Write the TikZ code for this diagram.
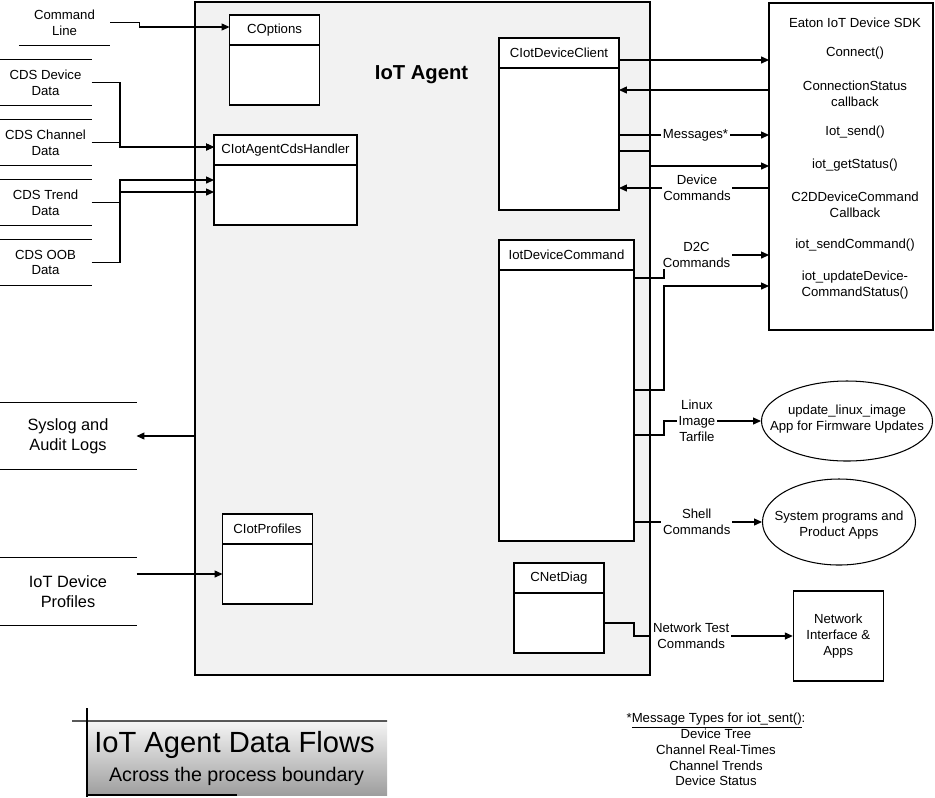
\documentclass[tikz,border=0pt]{standalone}
\usepackage{fontspec}
\setmainfont{Liberation Sans}
\usetikzlibrary{positioning, arrows.meta, shapes.geometric}
\definecolor{agentgray}{rgb}{0.949,0.949,0.949}
\definecolor{titletop}{rgb}{0.96,0.96,0.96}
\definecolor{titlebot}{rgb}{0.62,0.62,0.62}
\tikzset{
    arr/.style={-{Triangle[length=4.5pt,width=4pt]}}, % filled arrowheads
    txt/.style={font=\fontsize{7.5}{9}\selectfont, align=center, inner sep=0pt},
    bigtxt/.style={font=\fontsize{9.3}{11.3}\selectfont, align=center, inner sep=0pt},
    lbl/.style={txt, fill=white, inner sep=1pt}, % connector labels
    classhead/.style={txt, draw, fill=white, outer sep=0pt, minimum height=6mm},
    classbody/.style={draw, fill=white, outer sep=0pt, inner sep=0pt},
    store/.style={txt, minimum width=18.2mm, minimum height=9mm},
    app/.style={draw, ellipse, inner sep=0pt},
}

\begin{document}
\begin{tikzpicture}[x=0.2mm, y=-0.2mm, line width=0.6pt]
  \useasboundingbox (0,0) rectangle (935,797);

  % process boundary
  \node[draw, fill=agentgray, outer sep=0pt, minimum width=91mm, minimum height=134.6mm] (agent) at (422.5,338.5) {};
  \node[font=\fontsize{11.5}{13}\selectfont\bfseries] (agentname) at (421.5,75) {IoT Agent};

  % classes
  \node[classhead, minimum width=18mm] (optsh) at (274.5,30) {COptions};
  \node[classbody, minimum width=18mm, minimum height=12mm, below=0pt of optsh] (optsb) {};
  \node[classhead, minimum width=28.6mm] (hdlh) at (285.5,150) {CIotAgentCdsHandler};
  \node[classbody, minimum width=28.6mm, minimum height=12mm, below=0pt of hdlh] (hdlb) {};
  \node[classhead, minimum width=24mm] (clih) at (559,53) {CIotDeviceClient};
  \node[classbody, minimum width=24mm, minimum height=28.4mm, below=0pt of clih] (clib) {};
  \node[classhead, minimum width=27mm] (cmdh) at (566.5,255) {IotDeviceCommand};
  \node[classbody, minimum width=27mm, minimum height=54.2mm, below=0pt of cmdh] (cmdb) {};
  \node[classhead, minimum width=18mm] (profh) at (267.5,529) {CIotProfiles};
  \node[classbody, minimum width=18mm, minimum height=12mm, below=0pt of profh] (profb) {};
  \node[classhead, minimum width=18mm] (neth) at (559,578) {CNetDiag};
  \node[classbody, minimum width=18mm, minimum height=12mm, below=0pt of neth] (netb) {};

  % data stores on the left
  \node[store, minimum width=18mm] (cmdline) at (64.5,22.5) {Command\\Line};
  \node[store] (cdsdev) at (45.5,82.5) {CDS Device\\Data};
  \node[store] (cdschan) at (45.5,142.5) {CDS Channel\\Data};
  \node[store] (cdstrend) at (45.5,202.5) {CDS Trend\\Data};
  \node[store] (cdsoob) at (45.5,262.5) {CDS OOB\\Data};
  \foreach \s in {cmdline, cdsdev, cdschan, cdstrend, cdsoob}
    \draw (\s.north west) -- (\s.north east) (\s.south west) -- (\s.south east);

  \node[bigtxt, minimum width=27.2mm, minimum height=13.2mm] (syslog) at (68,436) {Syslog and\\Audit Logs};
  \node[bigtxt, minimum width=27.2mm, minimum height=13.5mm] (devprof) at (68,591.5) {IoT Device\\Profiles};
  \foreach \s in {syslog, devprof}
    \draw (\s.north east) -- (\s.north west) -- (\s.south west) -- (\s.south east);

  % SDK and external programs
  \node[draw, outer sep=0pt, minimum width=32.8mm, minimum height=65.4mm] (sdk) at (851,166.5) {};
  \foreach \y/\t [count=\i] in {23/{Eaton IoT Device SDK}, 53/{Connect()},
      93.5/{ConnectionStatus\\callback}, 132/{Iot\_send()}, 165/{iot\_getStatus()},
      205/{C2DDeviceCommand\\Callback}, 245/{iot\_sendCommand()},
      285/{iot\_updateDevice-\\CommandStatus()}}
    \node[txt] (sdktxt\i) at (855,\y) {\t};

  \node[app, minimum width=34.2mm, minimum height=16mm] (upd) at (847,421) {};
  \node[txt] (updtxt) at (847,419) {update\_linux\_image\\App for Firmware Updates};
  \node[app, minimum width=30.6mm, minimum height=17.2mm] (sysp) at (839,522) {};
  \node[txt] (sysptxt) at (839,525) {System programs and\\Product Apps};
  \node[txt, draw, minimum width=18mm, minimum height=18mm] (netapp) at (838.3,636) {Network\\Interface \&\\Apps};

  % inputs
  \draw[arr] (cmdline.east) -- ++(29.5,0) |- ([yshift=0.6mm]optsh.west);
  \coordinate (bus) at (120,0);
  \coordinate (hin1) at ([yshift=0.6mm]hdlh.west);
  \coordinate (hin2) at ([yshift=3mm]hdlb.west);
  \coordinate (hin3) at ([yshift=0.6mm]hdlb.west);
  \draw[arr] (cdsdev.east) -| (bus |- hin1) -- (hin1);
  \draw[arr] (cdschan.east) -| (bus |- hin1) -- (hin1);
  \draw[arr] (cdstrend.east) -| (bus |- hin2) -- (hin2);
  \draw[arr] (cdsoob.east) -| (bus |- hin3) -- (hin3);
  \draw[arr] (agent.west |- syslog.east) -- (syslog.east);
  \draw[arr] (devprof.east |- profb.west) -- (profb.west);

  % levels on the right side
  \coordinate (l60) at (0,60);
  \coordinate (l90) at (0,90);
  \coordinate (l135) at (0,135);
  \coordinate (l151) at (0,151);
  \coordinate (l166) at (0,166);
  \coordinate (l188) at (0,188);
  \coordinate (l255) at (0,255);
  \coordinate (l278) at (0,278);
  \coordinate (l286) at (0,286);
  \coordinate (l390) at (0,390);
  \coordinate (l435) at (0,435);
  \coordinate (jog) at (664,0);
  \coordinate (netjog) at (634,0);

  \draw[arr] (clih.east |- l60) -- (sdk.west |- l60);
  \draw[arr] (sdk.west |- l90) -- (clib.east |- l90);
  \draw[arr] (clib.east |- l135) -- node[lbl, pos=.51] (msglbl) {Messages*} (sdk.west |- l135);
  \draw[arr] (clib.east |- l151) -- (agent.east |- l151) -- (agent.east |- l166) -- (sdk.west |- l166);
  \draw[arr] (sdk.west |- l188) -- node[lbl, pos=.48] (devcmdlbl) {Device\\Commands} (clib.east |- l188);
  \draw[arr] (cmdb.east |- l278) -- (jog |- l278) -- (jog |- l255) -- node[lbl, pos=.31] (d2clbl) {D2C\\Commands} (sdk.west |- l255);
  \draw[arr] (cmdb.east |- l390) -- (jog |- l390) -- (jog |- l286) -- (sdk.west |- l286);
  \draw[arr] (cmdb.east |- l435) -- (jog |- l435) -- (jog |- upd.west) -- node[lbl, pos=.34] (tarlbl) {Linux\\Image\\Tarfile} (upd.west);
  \draw[arr] (cmdb.east |- sysp.west) -- node[lbl, pos=.49] (shelllbl) {Shell\\Commands} (sysp.west);
  \draw[arr] (netb.east) -- (netjog |- netb.east) -- (netjog |- netapp.west) -- node[lbl, pos=.36] (netlbl) {Network Test\\Commands} (netapp.west);

  % footnote
  \node[txt] (msgtypes) at (716,749.5) {*\underline{Message Types for iot\_sent()}:\\Device Tree\\Channel Real-Times\\Channel Trends\\Device Status};

  % title block
  \node[top color=titletop, bottom color=titlebot, outer sep=0pt, minimum width=60mm, minimum height=14.8mm] (titlebox) at (237,758) {};
  \draw (72,721) -- (titlebox.north east);
  \draw (87,708) -- (87,797);
  \draw (titlebox.south west) -- (titlebox.south);
  \node[font=\fontsize{16.6}{20}\selectfont, inner sep=0pt] (title) at (234.5,745) {IoT Agent Data Flows};
  \node[font=\fontsize{11.2}{13}\selectfont, inner sep=0pt] (subtitle) at (236.5,776) {Across the process boundary};
\end{tikzpicture}
\end{document}
